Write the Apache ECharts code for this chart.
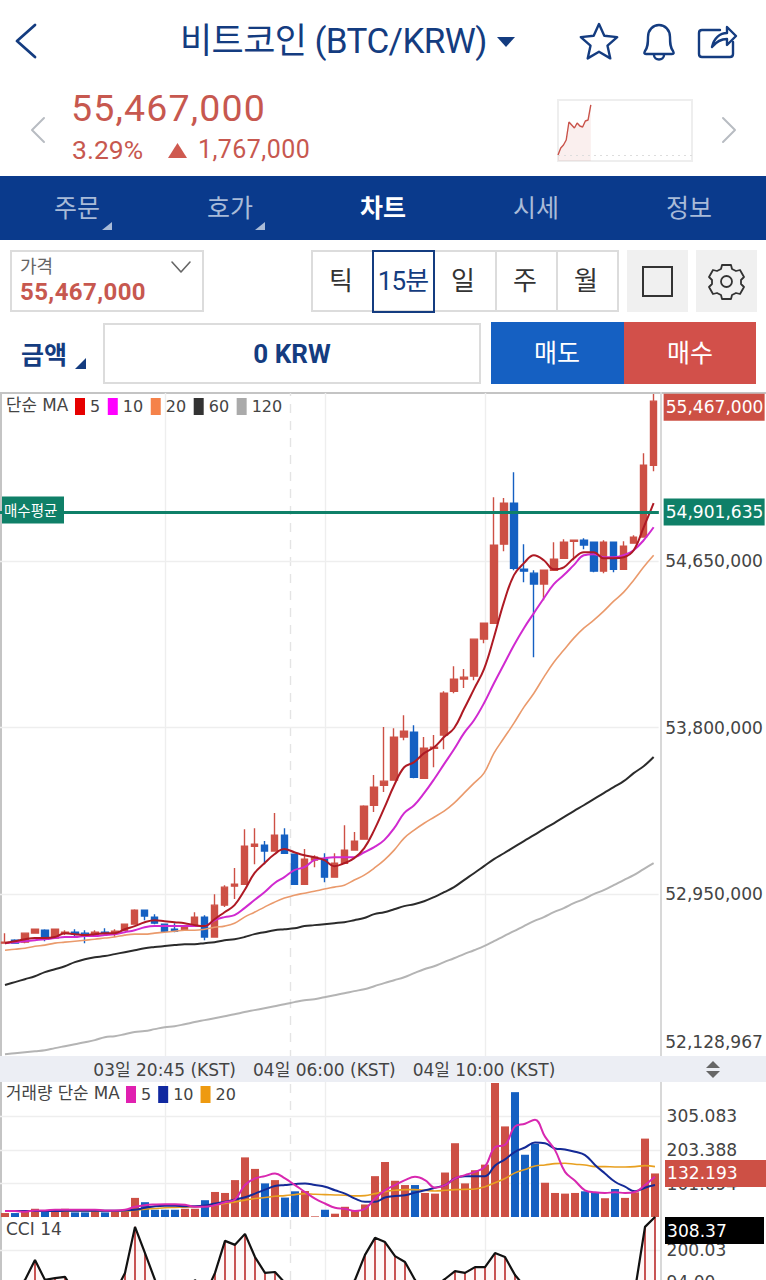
<!DOCTYPE html>
<html lang="ko"><head><meta charset="utf-8"><title>BTC/KRW</title>
<script src="https://cdn.jsdelivr.net/npm/echarts@6/dist/echarts.min.js"></script>
<style>
html,body{margin:0;padding:0;background:#fff;width:766px;height:1280px;overflow:hidden}
body{position:relative;font-family:Roboto,"Noto Sans CJK KR",sans-serif}
.a{position:absolute;white-space:nowrap;line-height:1}
.box{position:absolute;box-sizing:border-box}
.c{transform:translate(-50%,-50%)}
svg{position:absolute;overflow:visible}
#chart{position:absolute;left:0;top:0;width:766px;height:1400px}
</style></head><body>
<svg style="left:0;top:0" width="766" height="392" fill="none" stroke="#143c80" stroke-width="2.4" stroke-linecap="round" stroke-linejoin="round">
<path d="M35 25 L17 41 L35 57" stroke-width="2.8"/>
<path d="M599 24l5.3 11.8 12.9 1.3-9.7 8.6 2.8 12.7-11.3-6.6-11.3 6.6 2.8-12.7-9.7-8.6 12.9-1.3z" />
<path d="M645 51c3-4 3-8 3-14 0-7 5-12 11-12s11 5 11 12c0 6 0 10 3 14 1 2 1 3-1 3h-26c-2 0-2-1-1-3z"/><path d="M654 55c0 6 10 6 10 0"/>
<path d="M720 30h-18c-2 0-3 1-3 3v21c0 2 1 3 3 3h28c2 0 3-1 3-3v-12"/><path d="M712 47c2-9 8-14 15-14v-6l9 9-9 9v-6c-6 0-11 3-15 8z"/>
<path d="M44 118l-12 12 12 12" stroke="#b8bcc2" stroke-width="2"/><path d="M723 118l12 12-12 12" stroke="#b8bcc2" stroke-width="2"/>
<path d="M172 262l9 10 9-10" stroke="#666" stroke-width="1.6"/>
<path d="M497 37h18l-9 10z" fill="#143c80" stroke="none"/>
<path d="M168 158l9.5-15 9.5 15z" fill="#cf5a50" stroke="none"/>
</svg>
<div class="a" style="left:180px;top:24px;font-size:35px;color:#143c80;letter-spacing:-.6px">비트코인 (BTC/KRW)</div>
<div class="a" style="left:71px;top:90px;font-size:37.5px;color:#c7584f;letter-spacing:1.15px">55,467,000</div>
<div class="a" style="left:72px;top:137px;font-size:26.5px;color:#c7584f">3.29%</div>
<div class="a" style="left:198px;top:137px;font-size:25px;color:#c7584f;letter-spacing:.45px">1,767,000</div>

<div class="box" style="left:0;top:176px;width:766px;height:64px;background:#0a3a8c"></div>
<div class="a c" style="left:77px;top:208px;font-size:25px;color:#a9bbd8">주문</div>
<div class="a c" style="left:230px;top:208px;font-size:25px;color:#a9bbd8">호가</div>
<div class="a c" style="left:383px;top:208px;font-size:25px;color:#fff;font-weight:700">차트</div>
<div class="a c" style="left:536px;top:208px;font-size:25px;color:#a9bbd8">시세</div>
<div class="a c" style="left:689px;top:208px;font-size:25px;color:#a9bbd8">정보</div>
<svg style="left:0;top:0" width="766" height="392"><path d="M112 222v8h-10z" fill="#a9bbd8"/><path d="M265 222v8h-10z" fill="#a9bbd8"/><path d="M86 358v11H75z" fill="#143c80"/></svg>

<div class="box" style="left:10px;top:250px;width:194px;height:62px;border:2px solid #dcdcdc"></div>
<div class="a" style="left:20px;top:258px;font-size:18px;color:#666">가격</div>
<div class="a" style="left:20px;top:280px;font-size:24px;font-weight:700;color:#c7584f;letter-spacing:.4px">55,467,000</div>
<div class="box" style="left:311px;top:250px;width:308px;height:62px;border:2px solid #dcdcdc"></div>
<div class="box" style="left:495px;top:250px;width:2px;height:62px;background:#dcdcdc"></div>
<div class="box" style="left:556px;top:250px;width:2px;height:62px;background:#dcdcdc"></div>
<div class="box" style="left:372px;top:250px;width:63px;height:63px;border:2px solid #143c80"></div>
<div class="a c" style="left:341px;top:281px;font-size:26px;color:#333">틱</div>
<div class="a c" style="left:403px;top:281px;font-size:26px;color:#143c80;letter-spacing:-.8px">15분</div>
<div class="a c" style="left:463px;top:281px;font-size:26px;color:#333">일</div>
<div class="a c" style="left:525px;top:281px;font-size:26px;color:#333">주</div>
<div class="a c" style="left:586px;top:281px;font-size:26px;color:#333">월</div>
<div class="box" style="left:627px;top:250px;width:61px;height:62px;background:#f0f0f0"></div>
<div class="box" style="left:642px;top:266px;width:31px;height:31px;border:2px solid #333"></div>
<div class="box" style="left:696px;top:250px;width:61px;height:62px;background:#f0f0f0"></div>
<svg style="left:0;top:0" width="766" height="392" fill="none" stroke="#333" stroke-width="1.8" stroke-linejoin="round">
<circle cx="726.5" cy="281.5" r="5.5"/>
<path d="M722 265h9l1 4 4 2 4-1 4 7-3 3v4l3 3-4 7-4-1-4 2-1 4h-9l-1-4-4-2-4 1-4-7 3-3v-4l-3-3 4-7 4 1 4-2z"/>
</svg>
<div class="a" style="left:21px;top:343px;font-size:25px;font-weight:700;color:#143c80">금액</div>
<div class="box" style="left:103px;top:323px;width:378px;height:61px;border:2px solid #dcdcdc"></div>
<div class="a c" style="left:292px;top:354px;font-size:26px;font-weight:700;color:#143c80">0 KRW</div>
<div class="box" style="left:491px;top:322px;width:133px;height:62px;background:#1560c2"></div>
<div class="box" style="left:624px;top:322px;width:132px;height:62px;background:#d2504a"></div>
<div class="a c" style="left:557px;top:353px;font-size:25px;color:#fff">매도</div>
<div class="a c" style="left:690px;top:353px;font-size:25px;color:#fff">매수</div>
<div id="chart"></div>
<script>
// All prices are in thousands of KRW.
const categories=["03일 16:45","03일 17:00","03일 17:15","03일 17:30","03일 17:45","03일 18:00","03일 18:15","03일 18:30","03일 18:45","03일 19:00","03일 19:15","03일 19:30","03일 19:45","03일 20:00","03일 20:15","03일 20:30","03일 20:45","03일 21:00","03일 21:15","03일 21:30","03일 21:45","03일 22:00","03일 22:15","03일 22:30","03일 22:45","03일 23:00","03일 23:15","03일 23:30","03일 23:45","04일 05:15","04일 05:30","04일 05:45","04일 06:00","04일 06:15","04일 06:30","04일 06:45","04일 07:00","04일 07:15","04일 07:30","04일 07:45","04일 08:00","04일 08:15","04일 08:30","04일 08:45","04일 09:00","04일 09:15","04일 09:30","04일 09:45","04일 10:00","04일 10:15","04일 10:30","04일 10:45","04일 11:00","04일 11:15","04일 11:30","04일 11:45","04일 12:00","04일 12:15","04일 12:30","04일 12:45","04일 13:00","04일 13:15","04일 13:30","04일 13:45","04일 14:00","04일 14:15"];
const labelledCategories=[16,32,48];
// [open, close, low, high]
const candles=[[52700,52705,52700,52751],[52715,52700,52700,52720],[52705,52751,52700,52751],[52751,52771,52751,52771],[52766,52720,52710,52771],[52726,52771,52726,52771],[52751,52756,52741,52766],[52756,52746,52736,52771],[52751,52736,52700,52766],[52741,52756,52731,52766],[52756,52751,52741,52776],[52756,52761,52731,52771],[52766,52797,52766,52797],[52797,52868,52797,52873],[52868,52838,52817,52868],[52833,52802,52797,52848],[52797,52761,52761,52797],[52771,52761,52756,52802],[52766,52787,52766,52787],[52787,52833,52787,52858],[52833,52731,52715,52843],[52731,52894,52731,52950],[52894,52986,52884,52996],[52991,53001,52925,53083],[53001,53195,53001,53282],[53195,53205,53103,53287],[53200,53170,53103,53221],[53170,53251,53170,53364],[53251,53159,53159,53287],[53154,53001,53001,53154],[53001,53129,53001,53180],[53124,53139,53088,53149],[53129,53037,53011,53159],[53037,53108,53037,53159],[53108,53175,53108,53302],[53175,53221,53175,53267],[53231,53399,53231,53404],[53404,53496,53369,53558],[53506,53527,53471,53803],[53532,53752,53532,53797],[53752,53782,53736,53864],[53777,53547,53542,53813],[53542,53695,53542,53752],[53695,53700,53598,53762],[53762,53976,53690,53986],[53986,54048,53976,54114],[54048,54058,54002,54099],[54063,54252,54042,54252],[54252,54333,54231,54333],[54333,54732,54333,54977],[54737,54946,54701,54972],[54946,54614,54604,55104],[54609,54599,54543,54737],[54589,54533,54160,54604],[54533,54604,54451,54604],[54604,54660,54604,54747],[54665,54747,54665,54762],[54752,54757,54655,54757],[54757,54732,54711,54767],[54747,54599,54594,54747],[54599,54747,54589,54757],[54747,54609,54594,54747],[54609,54727,54609,54752],[54742,54773,54742,54783],[54773,55140,54773,55201],[55140,55467,55109,55503]];
const ma5=[52700,52710,52720,52726,52726,52731,52751,52746,52741,52746,52751,52751,52771,52787,52807,52817,52812,52807,52802,52792,52787,52822,52858,52894,52970,53057,53108,53154,53180,53164,53149,53139,53124,53093,53108,53134,53185,53277,53389,53506,53598,53624,53670,53700,53752,53797,53895,53997,54099,54262,54441,54579,54640,54680,54655,54609,54619,54665,54696,54696,54665,54665,54670,54706,54823,54946];
const ma10=[52700,52705,52710,52715,52720,52726,52731,52731,52736,52736,52741,52746,52756,52766,52781,52787,52787,52787,52787,52787,52787,52817,52833,52843,52879,52920,52960,53006,53037,53073,53088,53124,53134,53139,53139,53139,53164,53190,53226,53287,53364,53404,53466,53537,53614,53690,53772,53838,53925,54027,54124,54221,54308,54385,54461,54533,54579,54630,54680,54686,54670,54670,54680,54706,54757,54823];
const ma20=[52664,52669,52674,52684,52690,52700,52705,52710,52715,52720,52726,52731,52741,52746,52746,52751,52756,52761,52766,52766,52771,52781,52787,52802,52833,52858,52884,52909,52930,52945,52955,52965,52976,52986,52996,53022,53047,53083,53124,53175,53236,53277,53312,53343,53374,53415,53466,53517,53568,53670,53747,53823,53905,53976,54058,54134,54196,54257,54308,54349,54395,54446,54492,54553,54620,54680];
const ma60=[52486,52501,52516,52531,52552,52567,52582,52603,52618,52628,52634,52644,52654,52664,52674,52680,52685,52690,52695,52695,52700,52705,52715,52720,52731,52746,52756,52766,52771,52776,52787,52792,52797,52802,52807,52817,52828,52848,52858,52873,52889,52899,52914,52935,52960,52986,53022,53057,53093,53129,53159,53190,53221,53251,53282,53312,53343,53374,53404,53435,53466,53496,53527,53568,53603,53650];
const ma120=[52133,52138,52143,52148,52153,52164,52174,52184,52194,52205,52220,52225,52235,52246,52251,52261,52271,52276,52286,52297,52307,52317,52327,52337,52348,52358,52368,52378,52388,52399,52409,52414,52424,52434,52444,52455,52465,52480,52496,52511,52526,52547,52567,52582,52603,52623,52644,52664,52685,52710,52736,52761,52787,52812,52833,52858,52879,52904,52925,52950,52971,52996,53022,53047,53078,53108];
const priceTicks=[54650,53800,52950];
const priceMin=52128.967, priceMax=55508.6, lastPrice=55467, avgBuy=54901.635;
const volume=[12,12,16,25,16,18,25,14,14,20,14,18,18,58,45,22,22,22,25,25,51,76,73,112,181,146,102,112,59,78,79,2,22,10,31,18,38,124,167,110,97,97,73,71,135,224,102,142,159,410,275,379,189,222,104,73,71,73,78,76,57,85,58,75,238,132.193];
const volMa5=[18,18,16,20,20,22,22,22,22,22,20,20,22,31,36,38,39,39,37,31,31,36,45,53,97,117,124,132,117,97,76,56,41,28,25,18,25,56,81,97,112,122,112,89,97,117,127,137,153,212,219,275,283,295,244,203,137,110,81,75,73,75,73,76,97,122];
const volMa10=[18,18,18,18,18,18,19,19,19,19,19,19,20,22,28,33,34,34,33,33,35,41,46,53,60,71,83,94,97,100,102,97,92,81,71,56,46,46,59,64,66,74,81,89,97,117,124,124,124,156,175,198,211,226,224,208,205,198,188,158,132,107,92,78,89,97];
const volMa20=[18,18,18,18,18,18,18,18,18,18,18,18,18,20,24,26,28,29,30,31,33,36,41,46,51,56,59,63,65,68,71,69,68,67,66,64,65,71,77,81,83,83,81,79,81,83,84,85,92,104,117,134,144,155,158,162,163,160,158,153,153,152,152,153,156,153];
const volTicks=[101.694,203.388,305.083];
const cci=[50,70,102,167,102,108,112,60,20,40,50,60,125,276,190,102,40,10,30,102,52,125,230,217,253,177,125,128,92,40,30,35,20,40,70,102,184,240,226,180,161,102,60,80,105,131,125,144,144,190,177,118,79,40,30,45,55,60,65,40,35,30,35,69,276,308.37];
const cciTicks=[200.03,94];
const sparkPrices=[53700,53947,54053,54230,54866,54760,54654,54831,54725,54689,54902,54937,55467];
const sparkPrevClose=53700;
const sparkSlots=Array.from({length:50},(_,i)=>i);
const sessionGuides=[16,32,48];
const sessionBreak=28.55;

const UP='#cd5045',DOWN='#1560c2',GREEN='#0f8068',GRID='#eeeeee';
const CJK='"DejaVu Sans","Noto Sans CJK KR",sans-serif';
const axisFont={fontFamily:CJK,fontSize:17.1,color:'#444'};
const HIDE={color:'rgba(0,0,0,0)',width:0};
const chart=echarts.init(document.getElementById('chart'),null,{renderer:'svg',width:766,height:1400});
const upFlags=candles.map(c=>c[1]>=c[0]);
const fmtPrice=v=>Math.round(v*1000).toLocaleString('en-US');
const tag=(bg,color)=>({show:true,position:'end',distance:5,color:color,fontFamily:CJK,fontSize:17.1,backgroundColor:bg,width:99,height:27,lineHeight:27,padding:[0,0,0,2],align:'left'});
function cat(i,labels){return {type:'category',gridIndex:i,data:categories,boundaryGap:true,axisLine:{show:false},axisTick:{show:false},splitLine:{show:false},z:3,
  axisLabel:labels?{show:true,interval:0,hideOverlap:false,margin:6,fontFamily:CJK,fontSize:17,color:'#444',formatter:(v,i)=>labelledCategories.includes(i)?v+' (KST)':''}:{show:false}};}
function val(i,min,max,ticks,fmt){return {type:'value',gridIndex:i,position:'right',min,max,axisLine:{show:false},axisTick:{show:false},
  splitLine:{show:false},
  axisLabel:{show:true,customValues:ticks,margin:6.5,align:'left',formatter:fmt,showMinLabel:true,showMaxLabel:true,...axisFont}};}
function ln(name,data,color,width,xi){return {name,type:'line',data,xAxisIndex:xi,yAxisIndex:xi,showSymbol:false,smooth:.4,lineStyle:{color,width},itemStyle:{color},silent:true,z:4};}
function gridSeries(i,ticks){return {name:'grid'+i,type:'line',xAxisIndex:i,yAxisIndex:i,data:[],z:1,silent:true,
  markLine:{silent:true,symbol:'none',animation:false,precision:3,z:1,label:{show:false},lineStyle:{color:GRID,width:1.4,type:'solid'},data:ticks.map(t=>({yAxis:t}))}};}
const option={animation:false,backgroundColor:'transparent',
 textStyle:{fontFamily:CJK},
 legend:[
  {left:75,top:398,selectedMode:false,icon:'rect',itemWidth:10,itemHeight:17,itemGap:7.6,itemStyle:{borderWidth:0},padding:0,textStyle:{fontSize:16,color:'#444'},
   formatter:n=>n.replace('MA',''),
   data:[{name:'MA5',itemStyle:{color:'#e60000'}},{name:'MA10',itemStyle:{color:'#ff00ff'}},{name:'MA20',itemStyle:{color:'#f5824a'}},{name:'MA60',itemStyle:{color:'#333'}},{name:'MA120',itemStyle:{color:'#aaa'}}]},
  {left:126,top:1086,selectedMode:false,icon:'rect',itemWidth:10,itemHeight:17,itemGap:7,itemStyle:{borderWidth:0},padding:0,textStyle:{fontSize:16,color:'#444'},
   formatter:n=>n.replace('VMA',''),
   data:[{name:'VMA5',itemStyle:{color:'#e020b0'}},{name:'VMA10',itemStyle:{color:'#1028a0'}},{name:'VMA20',itemStyle:{color:'#ee9a10'}}]}
 ],
 grid:[
  {left:0,width:660,top:393,height:662},
  {left:0,width:660,top:1083,height:134},
  {left:0,width:660,top:1217,height:163},
  {left:0,width:660,top:393,height:887},
  {left:558,width:134,top:100,height:61,show:true,borderColor:'#eeeeee',borderWidth:2,backgroundColor:'#fff'}
 ],
 xAxis:[cat(0,true),cat(1,false),cat(2,false),
  {type:'value',gridIndex:3,min:-.5,max:65.5,show:false},
  {type:'category',gridIndex:4,data:sparkSlots,boundaryGap:false,show:false}],
 yAxis:[val(0,priceMin,priceMax,priceTicks,fmtPrice),
  val(1,0,406.777,volTicks,v=>v.toFixed(3)),
  val(2,-226.3,308.37,cciTicks,v=>v.toFixed(2)),
  {type:'value',gridIndex:3,min:0,max:1,show:false},
  {type:'value',gridIndex:4,min:53488,max:55643,show:false}],
 series:[
  gridSeries(0,priceTicks),gridSeries(1,volTicks),gridSeries(2,cciTicks),
  {name:'guides',type:'line',xAxisIndex:3,yAxisIndex:3,data:[],z:0,silent:true,
   markLine:{silent:true,symbol:'none',animation:false,z:0,label:{show:false},
    data:sessionGuides.map(x=>({xAxis:x,lineStyle:{color:GRID,width:1.4,type:'solid'}})).concat([{xAxis:sessionBreak,lineStyle:{color:'#e4e4e4',width:1.4,type:[9,8]}}])}},
  {name:'candles',type:'candlestick',data:candles,xAxisIndex:0,yAxisIndex:0,barWidth:7,silent:true,z:3,
   itemStyle:{color:UP,color0:DOWN,borderColor:UP,borderColor0:DOWN,borderWidth:1.4},
   markLine:{silent:true,symbol:'none',animation:false,precision:3,z:6,
    data:[
     {yAxis:avgBuy,lineStyle:{color:GREEN,width:3,type:'solid'},label:{...tag(GREEN,'#fff'),formatter:()=>fmtPrice(avgBuy)}},
     {yAxis:avgBuy,lineStyle:{color:GREEN,width:3,type:'solid'},label:{show:true,position:'insideStart',distance:2,color:'#fff',fontFamily:'"Noto Sans CJK KR"',fontSize:14.5,backgroundColor:GREEN,width:60,height:27,lineHeight:27,padding:[0,0,0,2],offset:[0,-2],formatter:()=>'매수평균'}},
     {yAxis:lastPrice,lineStyle:HIDE,label:{...tag(UP,'#fff'),offset:[0,6],formatter:()=>fmtPrice(lastPrice)}},
     {yAxis:priceMin,lineStyle:HIDE,label:{show:true,position:'end',distance:6.5,offset:[0,-13],...axisFont,formatter:()=>fmtPrice(priceMin)}}
    ]}},
  ln('MA120',ma120,'#b4b4b4',2,0),ln('MA60',ma60,'#2b2b2b',2,0),ln('MA20',ma20,'#ea9a6c',1.6,0),ln('MA10',ma10,'#d02ad0',2,0),ln('MA5',ma5,'#ae1a24',2,0),
  {name:'volume',type:'bar',xAxisIndex:1,yAxisIndex:1,barWidth:8,silent:true,z:3,
   data:volume.map((v,i)=>({value:v,itemStyle:{color:upFlags[i]?UP:DOWN}})),
   markLine:{silent:true,symbol:'none',animation:false,precision:3,z:6,data:[{yAxis:volume[volume.length-1],lineStyle:HIDE,label:{...tag(UP,'#fff'),width:102,formatter:()=>volume[volume.length-1].toFixed(3)}}]}},
  ln('VMA20',volMa20,'#e8a020',1.6,1),ln('VMA10',volMa10,'#142a96',2,1),ln('VMA5',volMa5,'#d828b0',2,1),
  {name:'cciBars',type:'bar',xAxisIndex:2,yAxisIndex:2,barWidth:1.6,silent:true,z:3,data:cci,itemStyle:{color:'#b92a2a'}},
  {name:'cci',type:'line',xAxisIndex:2,yAxisIndex:2,data:cci,showSymbol:false,silent:true,z:4,lineStyle:{color:'#111',width:2.2},
   areaStyle:{color:'rgba(230,60,60,.05)'},
   markLine:{silent:true,symbol:'none',animation:false,precision:2,z:6,data:[{yAxis:cci[cci.length-1],lineStyle:HIDE,label:{...tag('#000','#fff'),width:97,offset:[0,13.5],formatter:()=>cci[cci.length-1].toFixed(2)}}]}},
  {name:'spark',type:'line',xAxisIndex:4,yAxisIndex:4,data:sparkPrices,showSymbol:false,silent:true,z:4,lineStyle:{color:'#c9534a',width:1.4},
   areaStyle:{color:'rgba(205,80,70,.13)'},
   markLine:{silent:true,symbol:'none',animation:false,label:{show:false},data:[{yAxis:sparkPrevClose,lineStyle:{color:'#ddd',width:1,type:[2,4]}}]}}
 ],
 graphic:[
  {type:'rect',z:0,silent:true,shape:{x:0,y:392,width:766,height:2},style:{fill:'#c4c4c4'}},
  {type:'rect',z:0,silent:true,shape:{x:0,y:392,width:2,height:888},style:{fill:'#c4c4c4'}},
  {type:'rect',z:0,silent:true,shape:{x:660,y:392,width:2,height:888},style:{fill:'#d8d8d8'}},
  {type:'rect',z:2,silent:true,shape:{x:0,y:1056,width:766,height:26},style:{fill:'#eceef4'}},
  {type:'polygon',z:2,silent:true,shape:{points:[[706,1068],[720,1068],[713,1061]]},style:{fill:'#666'}},
  {type:'polygon',z:2,silent:true,shape:{points:[[706,1071],[720,1071],[713,1078]]},style:{fill:'#666'}},
  {type:'text',z:5,silent:true,x:6,y:397,style:{text:'단순 MA',font:'16.8px '+CJK,fill:'#444'}},
  {type:'text',z:5,silent:true,x:6,y:1085,style:{text:'거래량 단순 MA',font:'16.8px '+CJK,fill:'#444'}},
  {type:'text',z:5,silent:true,x:6,y:1220,style:{text:'CCI 14',font:'17px '+CJK,fill:'#444'}}
 ]
};
chart.setOption(option);
</script>
</body></html>
